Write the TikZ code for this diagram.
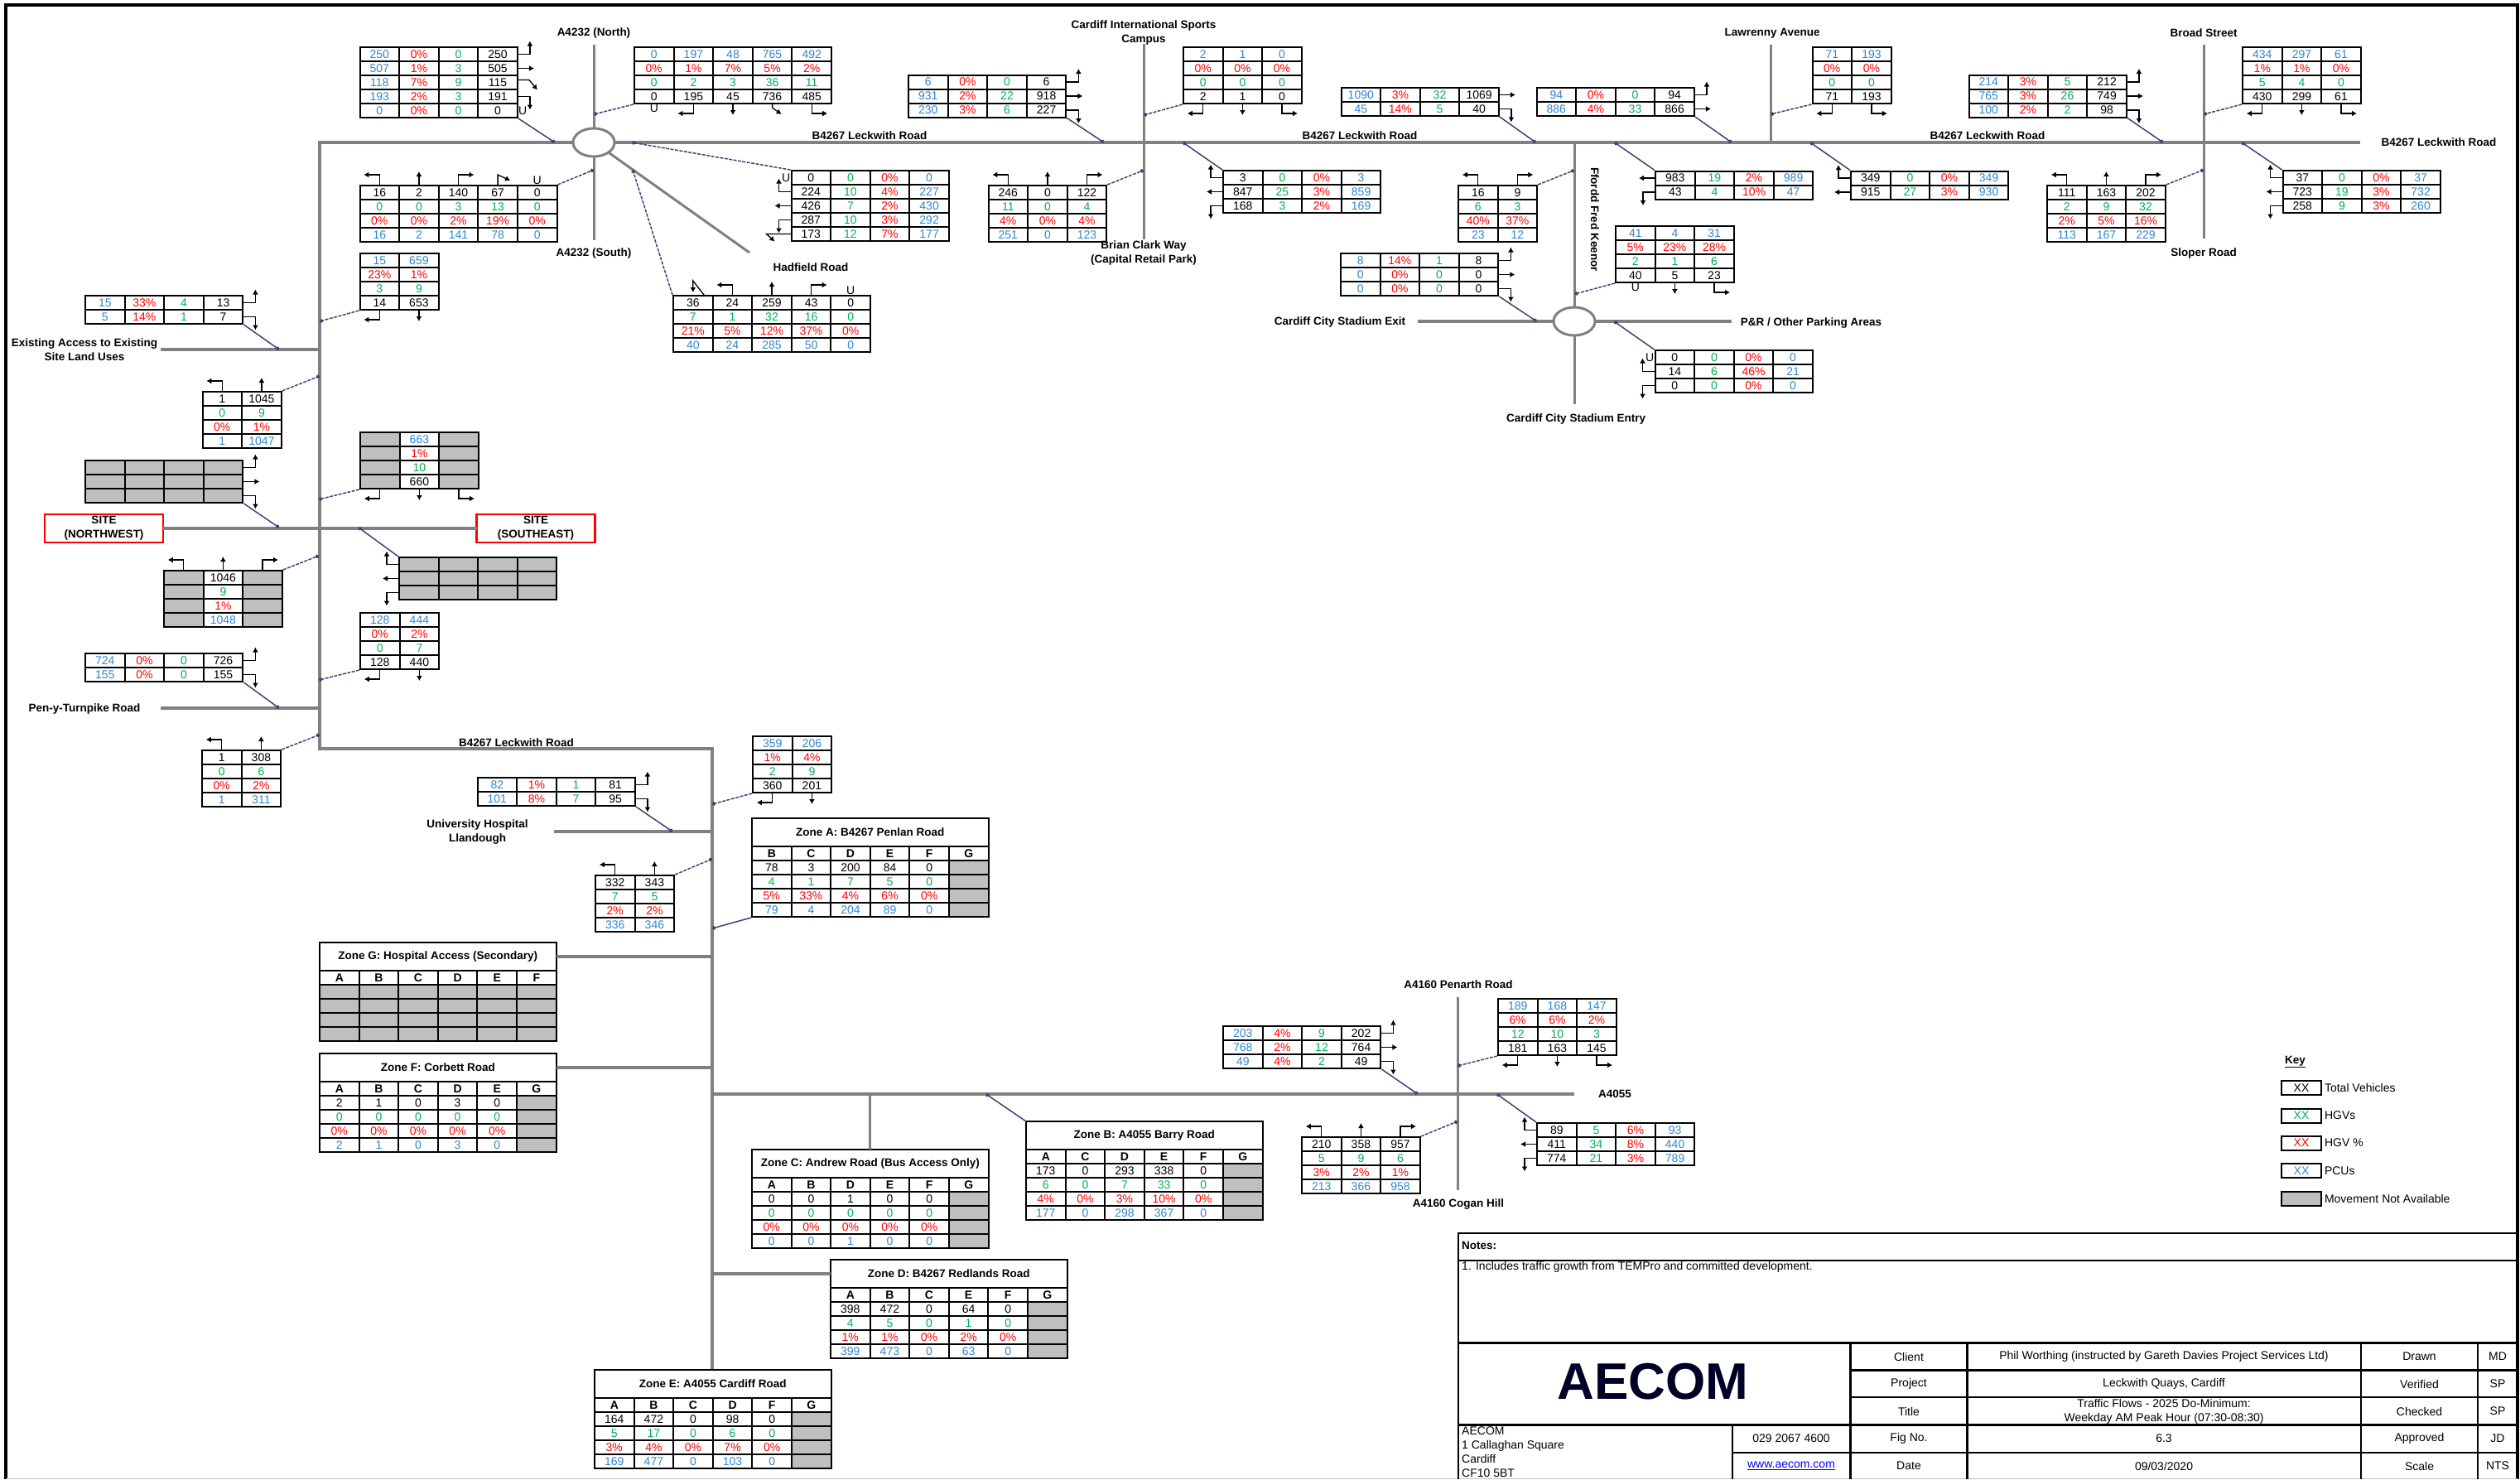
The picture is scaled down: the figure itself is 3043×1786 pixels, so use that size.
\documentclass[tikz,border=0pt]{standalone}
\usepackage{fontspec}
\setmainfont{Liberation Sans}
\usetikzlibrary{matrix,positioning,shapes.geometric,arrows.meta}

\definecolor{flowblue}{HTML}{2E86D1}
\definecolor{flowgreen}{HTML}{00B050}
\definecolor{cellgrey}{HTML}{BFBFBF}
\definecolor{roadgrey}{HTML}{808080}
\definecolor{leadcol}{HTML}{4B3B77}

\tikzset{
	cell/.style={draw,line width=2pt,minimum width=47.6pt,minimum height=17pt,inner sep=0pt,outer sep=0pt,anchor=center,font=\fontsize{14}{16}\selectfont},
	nocell/.style={fill=cellgrey},
	flow/.style={matrix of nodes,nodes in empty cells,inner sep=0pt,outer sep=0pt,anchor=north west,row sep=-2pt,column sep=-2pt,nodes={cell}},
	colsBRGK/.style={column 1/.style={nodes={text=flowblue}},column 2/.style={nodes={text=red}},column 3/.style={nodes={text=flowgreen}}},
	colsKGRB/.style={column 2/.style={nodes={text=flowgreen}},column 3/.style={nodes={text=red}},column 4/.style={nodes={text=flowblue}}},
	rowsBRGK/.style={row 1/.style={nodes={text=flowblue}},row 2/.style={nodes={text=red}},row 3/.style={nodes={text=flowgreen}}},
	rowsKGRB/.style={row 2/.style={nodes={text=flowgreen}},row 3/.style={nodes={text=red}},row 4/.style={nodes={text=flowblue}}},
	zonerows/.style={row 1/.style={nodes={font=\fontsize{14}{16}\selectfont\bfseries}},row 3/.style={nodes={text=flowgreen}},row 4/.style={nodes={text=red}},row 5/.style={nodes={text=flowblue}}},
	zonehead/.style={cell,anchor=north west,minimum width=285.6pt,minimum height=34pt,font=\fontsize{13.5}{16}\selectfont\bfseries},
	road/.style={draw=roadgrey,line width=4pt},
	thinroad/.style={draw=roadgrey,line width=3pt},
	roundabout/.style={shape=ellipse,draw=roadgrey,line width=3pt,minimum width=50pt,minimum height=34pt,inner sep=0pt,outer sep=0pt},
	sitebox/.style={draw=red,line width=2.5pt,minimum width=143pt,minimum height=34pt,inner sep=0pt,outer sep=0pt,align=center,font=\fontsize{13.5}{17}\selectfont\bfseries},
	roadlabel/.style={inner sep=0pt,align=center,font=\fontsize{13.5}{17}\selectfont\bfseries},
	plain/.style={inner sep=0pt,align=center,font=\fontsize{14}{17}\selectfont},
	ulabel/.style={inner sep=1pt,font=\fontsize{14}{16}\selectfont},
	turn/.style={draw=black,line width=1.3pt,-{Latex[length=6pt,width=7pt]}},
	leader/.style={draw=leadcol,line width=1.5pt,-{Circle[length=4.5pt]}},
	leaderd/.style={leader,dash pattern=on 4pt off 1.5pt},
	block/.style={draw=black,line width=2.5pt}
}

% Arms on the four sides of a table
\newcommand{\armEu}[1]{\draw[turn] (#1.east) -- ++(15,0) -- ++(0,-16);}
\newcommand{\armEo}[1]{\draw[turn] (#1.east) -- ++(20,0);}
\newcommand{\armEd}[1]{\draw[turn] (#1.east) -- ++(15,0) -- ++(0,16);}
\newcommand{\armEg}[1]{\draw[turn] (#1.east) ++(0,-3) -- ++(14,0) -- ++(10,12);}
\newcommand{\armWu}[1]{\draw[turn] (#1.west) -- ++(-15,0) -- ++(0,-16);}
\newcommand{\armWo}[1]{\draw[turn] (#1.west) -- ++(-20,0);}
\newcommand{\armWd}[1]{\draw[turn] (#1.west) -- ++(-15,0) -- ++(0,16);}
\newcommand{\armWg}[1]{\draw[turn] (#1.west) -- ++(-30,0) -- ++(10,9);}
\newcommand{\armNl}[1]{\draw[turn] (#1.north) -- ++(0,-13) -- ++(-19,0);}
\newcommand{\armNo}[1]{\draw[turn] (#1.north) -- ++(0,-17);}
\newcommand{\armNr}[1]{\draw[turn] (#1.north) -- ++(0,-13) -- ++(19,0);}
\newcommand{\armNg}[1]{\draw[turn] (#1.north) -- ++(0,-13) -- ++(15,7);}
\newcommand{\armSl}[1]{\draw[turn] (#1.south) -- ++(0,12) -- ++(-19,0);}
\newcommand{\armSo}[1]{\draw[turn] (#1.south) -- ++(0,14);}
\newcommand{\armSr}[1]{\draw[turn] (#1.south) -- ++(0,12) -- ++(19,0);}
\newcommand{\armSg}[1]{\draw[turn] (#1.south) -- ++(0,5) -- ++(11,8);}
% Leader from a table corner to a point on the road
\newcommand{\leadto}[5][leader]{\coordinate (#2pt) at (#4,#5); \draw[#1] (#2.#3) -- (#2pt);}

\begin{document}
\begin{tikzpicture}[x=1pt,y=-1pt]
	\useasboundingbox (0,0) rectangle (3043,1786);

	% Frame
	\draw[line width=3.5pt] (7,1786) -- (7,6) -- (3040,6) -- (3040,1786);
	\draw[line width=1pt,draw=cellgrey] (7,1785) -- (3040,1785);

	% Road ends
	\foreach \n/\x/\y in {cnw/386/172,csw/386/904,cse/860/904,cend/860/1654,
		wa/194/422,ja/386/422,wp/194/855,jp/386/855,wh/669/1004,jh/860/1004,
		jg/860/1155,jf/860/1289,ja4/860/1321,ea4/1901/1321,jc/1050.8/1321,jd/860/1538,
		leste/2850/172,nA/717/54,sA/717/290,endH/905/305,
		nS/1381/53,sS/1381/289,nL/2138/54,mL/2138/172,
		nB/2661/54,sB/2661/288,mF/1901/172,sF/1901/488,wF/1712/388,eF/2091/388,
		nP/1760/1204,sP/1760/1437}
		\coordinate (\n) at (\x,\y);

	% Roads
	\node[roundabout] (rba) at (717,172) {};
	\node[roundabout] (rbb) at (1901,388) {};
	\draw[road] (rba.west) -- (cnw) -- (csw) -- (cse) -- (cend);
	\draw[road] (rba.east) -- (leste);
	\draw[thinroad] (nA) -- (rba.north);
	\draw[thinroad] (rba.south) -- (sA);
	\draw[thinroad] (rba.south east) -- (endH);
	\draw[thinroad] (nS) -- (sS);
	\draw[thinroad] (nL) -- (mL);
	\draw[thinroad] (nB) -- (sB);
	\draw[thinroad] (mF) -- (rbb.north);
	\draw[thinroad] (rbb.south) -- (sF);
	\draw[road] (wF) -- (rbb.west);
	\draw[road] (rbb.east) -- (eF);
	\draw[road] (wa) -- (ja);
	\draw[road] (wp) -- (jp);
	\draw[road] (wh) -- (jh);
	\draw[road] (ja4) -- (ea4);
	\draw[thinroad] (nP) -- (sP);

	% Site
	\node[sitebox] (sitenw) at (125.5,638) {SITE\\(NORTHWEST)};
	\node[sitebox] (sitese) at (647,638) {SITE\\(SOUTHEAST)};
	\draw[road] (sitenw.east) -- (sitese.west);

	% Zones
	\node[zonehead] (zat) at (908,988) {Zone A: B4267 Penlan Road};
	\matrix (za) [flow,zonerows,below=-1pt of zat] {
		B & C & D & E & F & G \\
		78 & 3 & 200 & 84 & 0 & |[nocell]| \\
		4 & 1 & 7 & 5 & 0 & |[nocell]| \\
		5\% & 33\% & 4\% & 6\% & 0\% & |[nocell]| \\
		79 & 4 & 204 & 89 & 0 & |[nocell]| \\
	};
	\node[zonehead] (zbt) at (1239,1354) {Zone B: A4055 Barry Road};
	\matrix (zb) [flow,zonerows,below=-1pt of zbt] {
		A & C & D & E & F & G \\
		173 & 0 & 293 & 338 & 0 & |[nocell]| \\
		6 & 0 & 7 & 33 & 0 & |[nocell]| \\
		4\% & 0\% & 3\% & 10\% & 0\% & |[nocell]| \\
		177 & 0 & 298 & 367 & 0 & |[nocell]| \\
	};
	\node[zonehead] (zct) at (908,1388) {Zone C: Andrew Road (Bus Access Only)};
	\matrix (zc) [flow,zonerows,below=-1pt of zct] {
		A & B & D & E & F & G \\
		0 & 0 & 1 & 0 & 0 & |[nocell]| \\
		0 & 0 & 0 & 0 & 0 & |[nocell]| \\
		0\% & 0\% & 0\% & 0\% & 0\% & |[nocell]| \\
		0 & 0 & 1 & 0 & 0 & |[nocell]| \\
	};
	\node[zonehead] (zdt) at (1003,1521) {Zone D: B4267 Redlands Road};
	\matrix (zd) [flow,zonerows,below=-1pt of zdt] {
		A & B & C & E & F & G \\
		398 & 472 & 0 & 64 & 0 & |[nocell]| \\
		4 & 5 & 0 & 1 & 0 & |[nocell]| \\
		1\% & 1\% & 0\% & 2\% & 0\% & |[nocell]| \\
		399 & 473 & 0 & 63 & 0 & |[nocell]| \\
	};
	\node[zonehead] (zet) at (718,1654) {Zone E: A4055 Cardiff Road};
	\matrix (ze) [flow,zonerows,below=-1pt of zet] {
		A & B & C & D & F & G \\
		164 & 472 & 0 & 98 & 0 & |[nocell]| \\
		5 & 17 & 0 & 6 & 0 & |[nocell]| \\
		3\% & 4\% & 0\% & 7\% & 0\% & |[nocell]| \\
		169 & 477 & 0 & 103 & 0 & |[nocell]| \\
	};
	\node[zonehead] (zft) at (386,1272) {Zone F: Corbett Road};
	\matrix (zf) [flow,zonerows,below=-1pt of zft] {
		A & B & C & D & E & G \\
		2 & 1 & 0 & 3 & 0 & |[nocell]| \\
		0 & 0 & 0 & 0 & 0 & |[nocell]| \\
		0\% & 0\% & 0\% & 0\% & 0\% & |[nocell]| \\
		2 & 1 & 0 & 3 & 0 & |[nocell]| \\
	};
	\node[zonehead] (zgt) at (386,1138) {Zone G: Hospital Access (Secondary)};
	\matrix (zg) [flow,zonerows,below=-1pt of zgt] {
		A & B & C & D & E & F \\
		|[nocell]| & |[nocell]| & |[nocell]| & |[nocell]| & |[nocell]| & |[nocell]| \\
		|[nocell]| & |[nocell]| & |[nocell]| & |[nocell]| & |[nocell]| & |[nocell]| \\
		|[nocell]| & |[nocell]| & |[nocell]| & |[nocell]| & |[nocell]| & |[nocell]| \\
		|[nocell]| & |[nocell]| & |[nocell]| & |[nocell]| & |[nocell]| & |[nocell]| \\
	};
	\draw[road] (zgt.east) -- (jg);
	\draw[road] (zft.east) -- (jf);
	\draw[thinroad] (jc) -- (zct.north);
	\draw[road] (jd) -- (zdt.west);
	\leadto{za}{south west}{860}{1121}
	\leadto{zbt}{north west}{1190.6}{1321}

	% A4232 junction
	\matrix (aw) [flow,colsBRGK] at (433.5,56) {
		250 & 0\% & 0 & 250 \\
		507 & 1\% & 3 & 505 \\
		118 & 7\% & 9 & 115 \\
		193 & 2\% & 3 & 191 \\
		0 & 0\% & 0 & 0 \\
	};
	\armEu{aw-1-4} \armEo{aw-2-4} \armEg{aw-3-4} \armEd{aw-4-4}
	\node[ulabel,right=0pt of aw-5-4] (awu) {U};
	\leadto{aw}{south east}{670}{172}
	\matrix (an) [flow,rowsBRGK] at (765,56) {
		0 & 197 & 48 & 765 & 492 \\
		0\% & 1\% & 7\% & 5\% & 2\% \\
		0 & 2 & 3 & 36 & 11 \\
		0 & 195 & 45 & 736 & 485 \\
	};
	\node[ulabel,below=0pt of an-4-1] (anu) {U};
	\armSl{an-4-2} \armSo{an-4-3} \armSg{an-4-4} \armSr{an-4-5}
	\leadto[leaderd]{an}{south west}{717}{138}
	\matrix (as) [flow,rowsKGRB] at (433.5,223) {
		16 & 2 & 140 & 67 & 0 \\
		0 & 0 & 3 & 13 & 0 \\
		0\% & 0\% & 2\% & 19\% & 0\% \\
		16 & 2 & 141 & 78 & 0 \\
	};
	\armNl{as-1-1} \armNo{as-1-2} \armNr{as-1-3} \armNg{as-1-4}
	\node[ulabel,above=0pt of as-1-5] (asu) {U};
	\leadto[leaderd]{as}{north east}{717}{205}
	\matrix (he) [flow,colsKGRB] at (954.5,205) {
		0 & 0 & 0\% & 0 \\
		224 & 10 & 4\% & 227 \\
		426 & 7 & 2\% & 430 \\
		287 & 10 & 3\% & 292 \\
		173 & 12 & 7\% & 177 \\
	};
	\node[ulabel,left=0pt of he-1-1] (heu) {U};
	\armWu{he-2-1} \armWo{he-3-1} \armWd{he-4-1} \armWg{he-5-1}
	\leadto[leaderd]{he}{north west}{763}{172}
	\matrix (hs) [flow,rowsKGRB] at (812,356) {
		36 & 24 & 259 & 43 & 0 \\
		7 & 1 & 32 & 16 & 0 \\
		21\% & 5\% & 12\% & 37\% & 0\% \\
		40 & 24 & 285 & 50 & 0 \\
	};
	\draw[turn] (hs-1-1.north) ++(14,0) -- ++(-14,-18) -- ++(0,14);
	\armNl{hs-1-2} \armNo{hs-1-3} \armNr{hs-1-4}
	\node[ulabel,above=0pt of hs-1-5] (hsu) {U};
	\leadto[leaderd]{hs}{north west}{764}{205}

	% Existing access and west side
	\matrix (xn) [flow,rowsBRGK] at (433.5,305) {
		15 & 659 \\
		23\% & 1\% \\
		3 & 9 \\
		14 & 653 \\
	};
	\armSl{xn-4-1} \armSo{xn-4-2}
	\leadto[leaderd]{xn}{south west}{386}{388}
	\matrix (xw) [flow,colsBRGK] at (102,356) {
		15 & 33\% & 4 & 13 \\
		5 & 14\% & 1 & 7 \\
	};
	\armEu{xw-1-4} \armEd{xw-2-4}
	\leadto{xw}{south east}{337}{422}
	\matrix (xs) [flow,rowsKGRB] at (243.5,472) {
		1 & 1045 \\
		0 & 9 \\
		0\% & 1\% \\
		1 & 1047 \\
	};
	\armNl{xs-1-1} \armNo{xs-1-2}
	\leadto[leaderd]{xs}{north east}{386}{454}
	\matrix (sw) [flow] at (102,555) {
		|[nocell]| & |[nocell]| & |[nocell]| & |[nocell]| \\
		|[nocell]| & |[nocell]| & |[nocell]| & |[nocell]| \\
		|[nocell]| & |[nocell]| & |[nocell]| & |[nocell]| \\
	};
	\armEu{sw-1-4} \armEo{sw-2-4} \armEd{sw-3-4}
	\leadto{sw}{south east}{337}{637}
	\matrix (sn) [flow,rowsBRGK] at (434,521) {
		|[nocell]| & 663 & |[nocell]| \\
		|[nocell]| & 1\% & |[nocell]| \\
		|[nocell]| & 10 & |[nocell]| \\
		|[nocell]| & 660 & |[nocell]| \\
	};
	\armSl{sn-4-1} \armSo{sn-4-2} \armSr{sn-4-3}
	\leadto[leaderd]{sn}{south west}{385}{603}
	\matrix (ss) [flow,rowsKGRB] at (197,688) {
		|[nocell]| & 1046 & |[nocell]| \\
		|[nocell]| & 9 & |[nocell]| \\
		|[nocell]| & 1\% & |[nocell]| \\
		|[nocell]| & 1048 & |[nocell]| \\
	};
	\armNl{ss-1-1} \armNo{ss-1-2} \armNr{ss-1-3}
	\leadto[leaderd]{ss}{north east}{385}{671}
	\matrix (se) [flow] at (481,672) {
		|[nocell]| & |[nocell]| & |[nocell]| & |[nocell]| \\
		|[nocell]| & |[nocell]| & |[nocell]| & |[nocell]| \\
		|[nocell]| & |[nocell]| & |[nocell]| & |[nocell]| \\
	};
	\armWu{se-1-1} \armWo{se-2-1} \armWd{se-3-1}
	\leadto{se}{north west}{433}{637}
	\matrix (pn) [flow,rowsBRGK] at (434,739) {
		128 & 444 \\
		0\% & 2\% \\
		0 & 7 \\
		128 & 440 \\
	};
	\armSl{pn-4-1} \armSo{pn-4-2}
	\leadto[leaderd]{pn}{south west}{385}{821}
	\matrix (pw) [flow,colsBRGK] at (102,788) {
		724 & 0\% & 0 & 726 \\
		155 & 0\% & 0 & 155 \\
	};
	\armEu{pw-1-4} \armEd{pw-2-4}
	\leadto{pw}{south east}{337}{855}
	\matrix (ps) [flow,rowsKGRB] at (243,905) {
		1 & 308 \\
		0 & 6 \\
		0\% & 2\% \\
		1 & 311 \\
	};
	\armNl{ps-1-1} \armNo{ps-1-2}
	\leadto[leaderd]{ps}{north east}{386}{887}

	% Hospital
	\matrix (uw) [flow,colsBRGK] at (575.5,938) {
		82 & 1\% & 1 & 81 \\
		101 & 8\% & 7 & 95 \\
	};
	\armEu{uw-1-4} \armEd{uw-2-4}
	\leadto{uw}{south east}{812}{1004}
	\matrix (un) [flow,rowsBRGK] at (908,888) {
		359 & 206 \\
		1\% & 4\% \\
		2 & 9 \\
		360 & 201 \\
	};
	\armSl{un-4-1} \armSo{un-4-2}
	\leadto[leaderd]{un}{south west}{860}{971}
	\matrix (us) [flow,rowsKGRB] at (718,1056) {
		332 & 343 \\
		7 & 5 \\
		2\% & 2\% \\
		336 & 346 \\
	};
	\armNl{us-1-1} \armNo{us-1-2}
	\leadto[leaderd]{us}{north east}{860}{1037}

	% Sports campus
	\matrix (cw) [flow,colsBRGK] at (1096,89.5) {
		6 & 0\% & 0 & 6 \\
		931 & 2\% & 22 & 918 \\
		230 & 3\% & 6 & 227 \\
	};
	\armEu{cw-1-4} \armEo{cw-2-4} \armEd{cw-3-4}
	\leadto{cw}{south east}{1333}{172}
	\matrix (cn) [flow,rowsBRGK] at (1428,56) {
		2 & 1 & 0 \\
		0\% & 0\% & 0\% \\
		0 & 0 & 0 \\
		2 & 1 & 0 \\
	};
	\armSl{cn-4-1} \armSo{cn-4-2} \armSr{cn-4-3}
	\leadto[leaderd]{cn}{south west}{1381}{139}
	\matrix (cs) [flow,rowsKGRB] at (1192.5,223) {
		246 & 0 & 122 \\
		11 & 0 & 4 \\
		4\% & 0\% & 4\% \\
		251 & 0 & 123 \\
	};
	\armNl{cs-1-1} \armNo{cs-1-2} \armNr{cs-1-3}
	\leadto[leaderd]{cs}{north east}{1381}{205.5}
	\matrix (ce) [flow,colsKGRB] at (1476,205) {
		3 & 0 & 0\% & 3 \\
		847 & 25 & 3\% & 859 \\
		168 & 3 & 2\% & 169 \\
	};
	\armWu{ce-1-1} \armWo{ce-2-1} \armWd{ce-3-1}
	\leadto{ce}{north west}{1428.5}{172}

	% Ffordd Fred Keenor
	\matrix (fw) [flow,colsBRGK] at (1618.5,105) {
		1090 & 3\% & 32 & 1069 \\
		45 & 14\% & 5 & 40 \\
	};
	\armEo{fw-1-4} \armEd{fw-2-4}
	\leadto{fw}{south east}{1854.5}{172}
	\matrix (fs) [flow,rowsKGRB] at (1760,223) {
		16 & 9 \\
		6 & 3 \\
		40\% & 37\% \\
		23 & 12 \\
	};
	\armNl{fs-1-1} \armNr{fs-1-2}
	\leadto[leaderd]{fs}{north east}{1901}{205.5}
	\matrix (fe) [flow,colsKGRB] at (1998,205.5) {
		983 & 19 & 2\% & 989 \\
		43 & 4 & 10\% & 47 \\
	};
	\armWo{fe-1-1} \armWd{fe-2-1}
	\leadto{fe}{north west}{1949.5}{172}

	% Stadium roundabout
	\matrix (dn) [flow,rowsBRGK] at (1950,272) {
		41 & 4 & 31 \\
		5\% & 23\% & 28\% \\
		2 & 1 & 6 \\
		40 & 5 & 23 \\
	};
	\node[ulabel,below=0pt of dn-4-1] (dnu) {U};
	\armSo{dn-4-2} \armSr{dn-4-3}
	\leadto[leaderd]{dn}{south west}{1901.5}{355}
	\matrix (dw) [flow,colsBRGK] at (1618,305) {
		8 & 14\% & 1 & 8 \\
		0 & 0\% & 0 & 0 \\
		0 & 0\% & 0 & 0 \\
	};
	\armEu{dw-1-4} \armEo{dw-2-4} \armEd{dw-3-4}
	\leadto{dw}{south east}{1855.5}{388}
	\matrix (de) [flow,colsKGRB] at (1997.5,422) {
		0 & 0 & 0\% & 0 \\
		14 & 6 & 46\% & 21 \\
		0 & 0 & 0\% & 0 \\
	};
	\node[ulabel,left=0pt of de-1-1] (deu) {U};
	\armWu{de-2-1} \armWd{de-3-1}
	\leadto{de}{north west}{1949}{388}

	% Lawrenny Avenue
	\matrix (lw) [flow,colsBRGK] at (1854.5,105) {
		94 & 0\% & 0 & 94 \\
		886 & 4\% & 33 & 866 \\
	};
	\armEu{lw-1-4} \armEo{lw-2-4}
	\leadto{lw}{south east}{2091}{172}
	\matrix (ln) [flow,rowsBRGK] at (2187.5,56) {
		71 & 193 \\
		0\% & 0\% \\
		0 & 0 \\
		71 & 193 \\
	};
	\armSl{ln-4-1} \armSr{ln-4-2}
	\leadto[leaderd]{ln}{south west}{2138}{138}
	\matrix (le) [flow,colsKGRB] at (2234,205.5) {
		349 & 0 & 0\% & 349 \\
		915 & 27 & 3\% & 930 \\
	};
	\armWu{le-1-1} \armWo{le-2-1}
	\leadto{le}{north west}{2186}{172}

	% Broad Street
	\matrix (bw) [flow,colsBRGK] at (2376.5,89.5) {
		214 & 3\% & 5 & 212 \\
		765 & 3\% & 26 & 749 \\
		100 & 2\% & 2 & 98 \\
	};
	\armEu{bw-1-4} \armEo{bw-2-4} \armEd{bw-3-4}
	\leadto{bw}{south east}{2612}{172}
	\matrix (bn) [flow,rowsBRGK] at (2707,56) {
		434 & 297 & 61 \\
		1\% & 1\% & 0\% \\
		5 & 4 & 0 \\
		430 & 299 & 61 \\
	};
	\armSl{bn-4-1} \armSo{bn-4-2} \armSr{bn-4-3}
	\leadto[leaderd]{bn}{south west}{2661}{138}
	\matrix (bs) [flow,rowsKGRB] at (2471,223) {
		111 & 163 & 202 \\
		2 & 9 & 32 \\
		2\% & 5\% & 16\% \\
		113 & 167 & 229 \\
	};
	\armNl{bs-1-1} \armNo{bs-1-2} \armNr{bs-1-3}
	\leadto[leaderd]{bs}{north east}{2661}{205}
	\matrix (be) [flow,colsKGRB] at (2755.5,205) {
		37 & 0 & 0\% & 37 \\
		723 & 19 & 3\% & 732 \\
		258 & 9 & 3\% & 260 \\
	};
	\armWu{be-1-1} \armWo{be-2-1} \armWd{be-3-1}
	\leadto{be}{north west}{2707}{172}

	% A4160 crossroads
	\matrix (ow) [flow,colsBRGK] at (1476,1238) {
		203 & 4\% & 9 & 202 \\
		768 & 2\% & 12 & 764 \\
		49 & 4\% & 2 & 49 \\
	};
	\armEu{ow-1-4} \armEo{ow-2-4} \armEd{ow-3-4}
	\leadto{ow}{south east}{1712}{1321}
	\matrix (on) [flow,rowsBRGK] at (1808,1205) {
		189 & 168 & 147 \\
		6\% & 6\% & 2\% \\
		12 & 10 & 3 \\
		181 & 163 & 145 \\
	};
	\armSl{on-4-1} \armSo{on-4-2} \armSr{on-4-3}
	\leadto[leaderd]{on}{south west}{1760}{1287}
	\matrix (os) [flow,rowsKGRB] at (1571,1372) {
		210 & 358 & 957 \\
		5 & 9 & 6 \\
		3\% & 2\% & 1\% \\
		213 & 366 & 958 \\
	};
	\armNl{os-1-1} \armNo{os-1-2} \armNr{os-1-3}
	\leadto[leaderd]{os}{north east}{1760}{1354}
	\matrix (oe) [flow,colsKGRB] at (1855,1355) {
		89 & 5 & 6\% & 93 \\
		411 & 34 & 8\% & 440 \\
		774 & 21 & 3\% & 789 \\
	};
	\armWu{oe-1-1} \armWo{oe-2-1} \armWd{oe-3-1}
	\leadto{oe}{north west}{1807.5}{1321}

	% Labels
	\node[roadlabel] (lnorth) at (717,40) {A4232 (North)};
	\node[roadlabel] (lsouth) at (717,306) {A4232 (South)};
	\node[roadlabel] (lleck1) at (1050,164) {B4267 Leckwith Road};
	\node[roadlabel] (lleck2) at (1642,164) {B4267 Leckwith Road};
	\node[roadlabel] (lleck3) at (2400,164) {B4267 Leckwith Road};
	\node[roadlabel] (lleck4) at (2945,172) {B4267 Leckwith Road};
	\node[roadlabel] (lleck5) at (623.5,897) {B4267 Leckwith Road};
	\node[roadlabel] (lhad) at (979,323) {Hadfield Road};
	\node[roadlabel] (lexist) at (102,422) {Existing Access to Existing\\Site Land Uses};
	\node[roadlabel] (lsport) at (1381,40) {Cardiff International Sports\\Campus};
	\node[roadlabel] (lbrian) at (1381,306) {Brian Clark Way\\(Capital Retail Park)};
	\node[roadlabel] (llawr) at (2140,40) {Lawrenny Avenue};
	\node[roadlabel] (lbroad) at (2661,40) {Broad Street};
	\node[roadlabel] (lsloper) at (2661,306) {Sloper Road};
	\node[roadlabel,rotate=-90] (lfred) at (1926,265) {Ffordd Fred Keenor};
	\node[roadlabel] (lexit) at (1618,389) {Cardiff City Stadium Exit};
	\node[roadlabel] (lpark) at (2187,390) {P\&R / Other Parking Areas};
	\node[roadlabel] (lentry) at (1903,506) {Cardiff City Stadium Entry};
	\node[roadlabel] (lpen) at (102,856) {Pen-y-Turnpike Road};
	\node[roadlabel] (luni) at (576.5,1005) {University Hospital\\Llandough};
	\node[roadlabel] (lpenarth) at (1761,1189) {A4160 Penarth Road};
	\node[roadlabel] (la4055) at (1950,1321) {A4055};
	\node[roadlabel] (lcogan) at (1761,1454) {A4160 Cogan Hill};

	% Key
	\node[roadlabel,anchor=west] (keyhead) at (2759,1282) {\underline{Key}};
	\foreach \n/\y/\c/\t in {keyt/1313.5/black/Total Vehicles,keyg/1347/flowgreen/HGVs,keyr/1380/red/HGV \%,keyb/1413.5/flowblue/PCUs}{
		\node[cell,text=\c] (\n) at (2779,\y) {XX};
		\node[plain,right=4pt of \n] (\n l) {\t};
	}
	\node[cell,nocell] (keyn) at (2779,1447) {};
	\node[plain,right=4pt of keyn] (keynl) {Movement Not Available};

	% Title block
	\draw[block] (1761,1786) -- (1761,1489) -- (3040,1489);
	\draw[block] (1761,1522) -- (3040,1522);
	\draw[block] (1761,1621.5) -- (3040,1621.5);
	\draw[block] (2234.5,1654.5) -- (3040,1654.5);
	\draw[block] (2234.5,1687) -- (3040,1687);
	\draw[block] (1761,1720.5) -- (3040,1720.5);
	\draw[block] (2092,1754) -- (3040,1754);
	\draw[block] (2092,1720.5) -- (2092,1786);
	\draw[block] (2234.5,1621.5) -- (2234.5,1786);
	\draw[block] (2375.5,1621.5) -- (2375.5,1786);
	\draw[block] (2851,1621.5) -- (2851,1786);
	\draw[block] (2992,1621.5) -- (2992,1786);
	\node[roadlabel,anchor=west] (notes) at (1765,1504) {Notes:};
	\node[plain,anchor=west] (note1) at (1765,1530) {1. Includes traffic growth from TEMPro and committed development.};
	\node[inner sep=0pt,text=black!85!blue,font=\fontsize{62}{62}\selectfont\bfseries] (logo) at (1996,1668) {AECOM};
	\foreach \n/\y/\a/\b/\c/\d in {
		a/1638/Client/{Phil Worthing (instructed by Gareth Davies Project Services Ltd)}/Drawn/MD,
		b/1671/Project/{Leckwith Quays, Cardiff}/Verified/SP,
		c/1704/Title/{Traffic Flows - 2025 Do-Minimum:\\Weekday AM Peak Hour (07:30-08:30)}/Checked/SP,
		d/1737/Fig No./6.3/Approved/JD,
		e/1770/Date/{09/03/2020}/Scale/NTS}{
		\node[plain] (tb\n a) at (2305,\y) {\a};
		\node[plain] (tb\n b) at (2613,\y) {\b};
		\node[plain] (tb\n c) at (2921.5,\y) {\c};
		\node[plain] (tb\n d) at (3016,\y) {\d};
	}
	\node[plain] (tbphone) at (2163,1737) {029 2067 4600};
	\node[plain,text=blue] (tbweb) at (2163,1770) {\underline{www.aecom.com}};
	\node[plain,anchor=north west,align=left] (tbaddr) at (1765,1722) {AECOM\\1 Callaghan Square\\Cardiff\\CF10 5BT};
\end{tikzpicture}
\end{document}
